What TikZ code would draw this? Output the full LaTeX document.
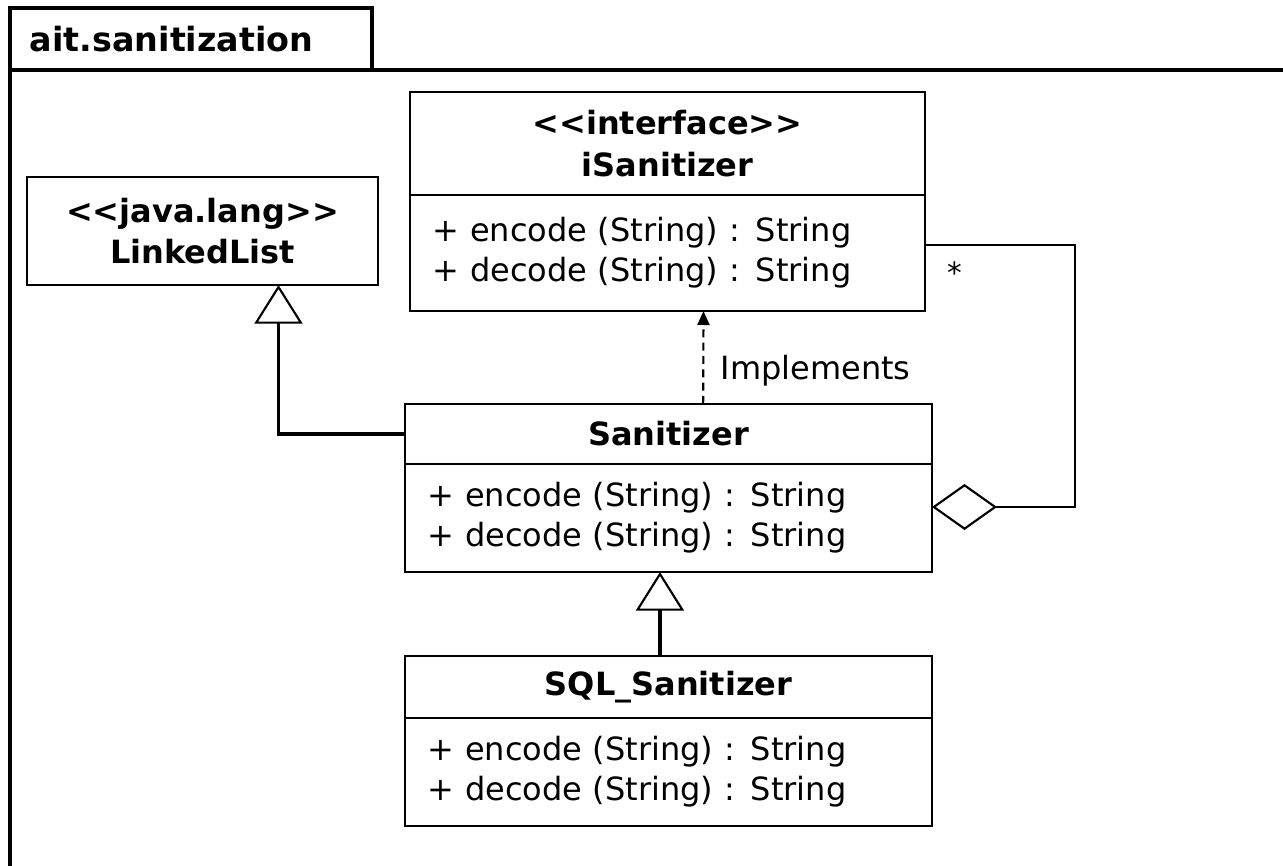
\documentclass[tikz,border=0pt]{standalone}
\usepackage{fontspec}
\setmainfont{DejaVu Sans}
\usetikzlibrary{arrows.meta,positioning}

\begin{document}
\begin{tikzpicture}[x=0.75pt,y=-0.75pt,
    classhead/.style={rectangle,draw,line width=1.6pt,outer sep=0pt,inner sep=0pt,
                      align=center,font=\fontsize{24}{31}\selectfont\bfseries},
    classops/.style={rectangle,draw,line width=1.6pt,outer sep=0pt,inner xsep=17pt,
                     inner ysep=0pt,align=left,font=\fontsize{24}{30}\selectfont},
    frame/.style={line width=2.3pt},
    inherit/.style={-{Triangle[open,length=29pt,width=36pt,line width=1.6pt]},line width=2.3pt},
    realize/.style={-{Triangle[length=10.5pt,width=9pt]},dash pattern=on 6pt off 4pt,line width=1.6pt},
    aggregate/.style={-{Diamond[open,length=48.75pt,width=34.5pt,line width=1.6pt]},line width=2.2pt}
]
    \useasboundingbox (0,0) rectangle (1283,866);
    % package frame
    \node[draw,frame,anchor=north west,outer sep=0pt,inner xsep=15pt,text width=241.5pt,
          minimum height=46.5pt,align=left,font=\fontsize{25}{28}\selectfont\bfseries]
          (pkg) at (10,8) {ait.sanitization};
    \draw[frame] (pkg.south west) -- (pkg.south west |- 0,866);
    \draw[frame] (pkg.south west) -- (pkg.south west -| 1283,0);

    % classes
    \node[classhead,anchor=north west,minimum width=386.25pt,minimum height=77.25pt]
        (isan) at (410,92) {<{}<interface>{}>\\iSanitizer};
    \node[classops,below=0pt of isan,text width=352.25pt,minimum height=87pt] (isanops)
        {+ encode (String) : String\\+ decode (String) : String};
    \node[classhead,anchor=north west,minimum width=263.25pt,minimum height=81pt]
        (llist) at (27,177) {<{}<java.lang>{}>\\LinkedList};
    \node[classhead,anchor=north west,minimum width=395.25pt,minimum height=45pt]
        (san) at (405,404) {Sanitizer};
    \node[classops,below=0pt of san,text width=361.25pt,minimum height=81pt] (sanops)
        {+ encode (String) : String\\+ decode (String) : String};
    \node[classhead,anchor=north west,minimum width=395.25pt,minimum height=46.5pt]
        (sql) at (405,656) {SQL\_Sanitizer};
    \node[classops,below=0pt of sql,text width=361.25pt,minimum height=81pt] (sqlops)
        {+ encode (String) : String\\+ decode (String) : String};

    % relations
    \draw[inherit] (san.west) -| ([xshift=57pt]llist.south);
    \draw[realize] ([xshift=26pt]san.north) -- ([xshift=27pt]isanops.south)
        node[pos=0.36,anchor=west,xshift=9pt,font=\fontsize{24}{30}\selectfont] {Implements};
    \draw[inherit] ([xshift=-6.4pt]sql.north) -- ([xshift=-6.4pt]sanops.south);
    \coordinate (aggbend) at (1075,300);
    \draw[aggregate] ([yshift=6pt]isanops.east) -| (aggbend) |- ([yshift=8.25pt]sanops.east);
    \node[font=\fontsize{22}{28}\selectfont] (mult) at (955,273) {*};
\end{tikzpicture}
\end{document}
